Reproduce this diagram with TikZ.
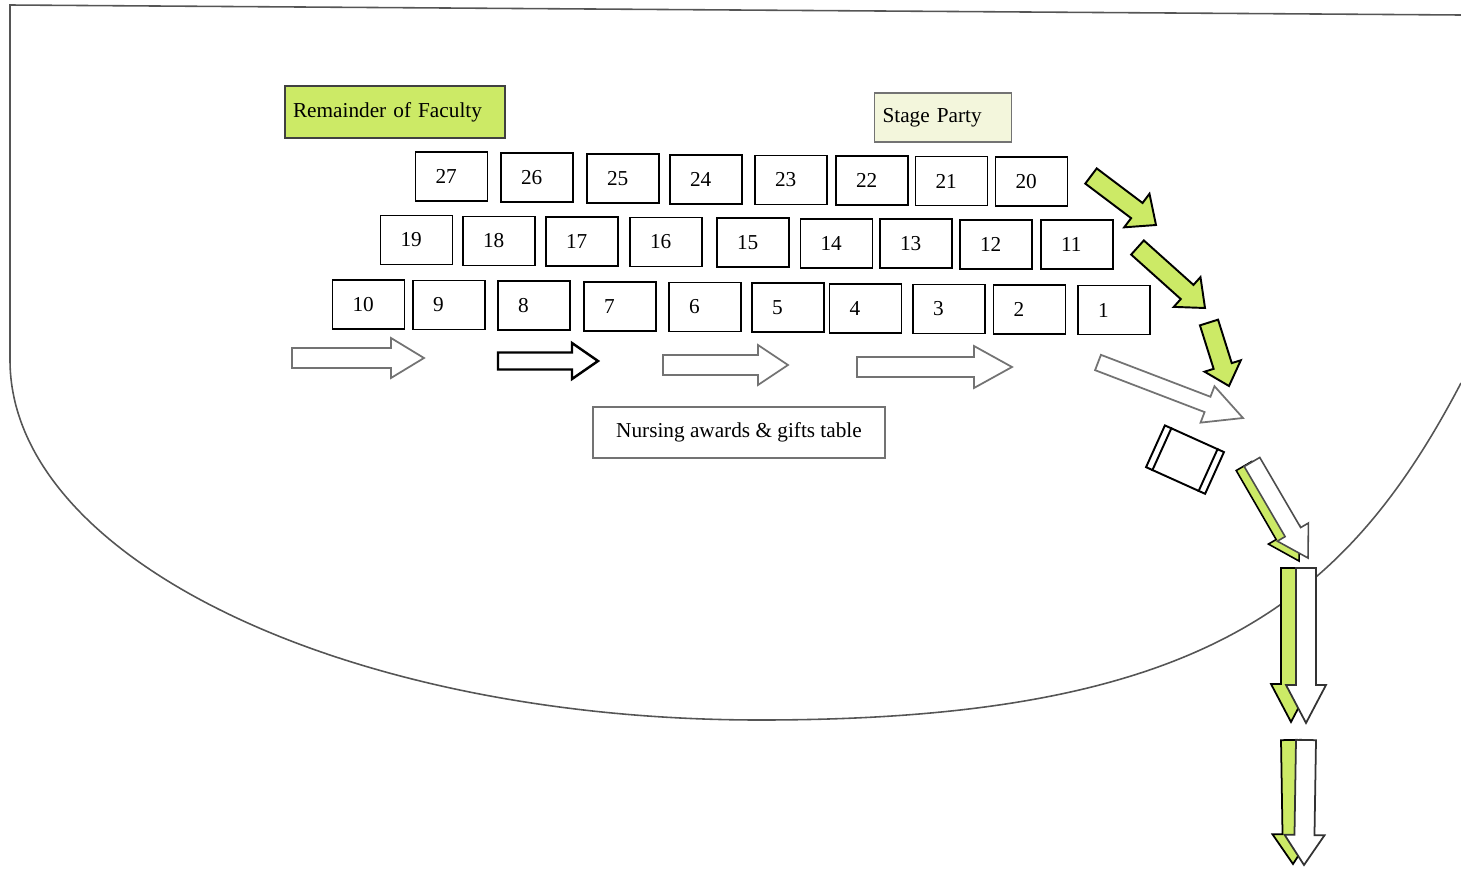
\documentclass[tikz,border=0pt]{standalone}
\usepackage{xcolor}
\usepackage{fontspec}
\setmainfont{Liberation Serif}
\usepackage{tikz}
\usetikzlibrary{calc}
\usetikzlibrary{positioning}
\definecolor{lime}{RGB}{204,234,102}
\definecolor{palelime}{RGB}{243,246,220}
\definecolor{rim}{RGB}{85,85,85}
\tikzstyle{seat}= [draw, line width=1.1pt, minimum width=1.44cm, minimum height=0.98cm, text width=0.64cm, inner xsep=0.4cm, align=left]
\tikzstyle{tag}= [draw=rim, line width=1.1pt, inner xsep=0.16cm, align=left]
\tikzstyle{flow}= [draw=black!55, fill=white, line width=1pt]
\tikzstyle{lead}= [draw=black, fill=lime, line width=1.1pt, line join=miter]
\newcommand{\blockarrow}[6][]{%
  \pgfmathsetmacro{\arw}{#4*0.02}%
  \pgfmathsetmacro{\arh}{#5*0.02}%
  \pgfmathsetmacro{\arl}{#6*0.02}%
  \coordinate (tl) at (#2);
  \coordinate (tp) at (#3);
  \coordinate (nk) at ($(tp)!\arl cm!(tl)$);
  \draw[#1] ($(tl)!\arw cm!90:(tp)$) -- ($(nk)!\arw cm!90:(tp)$) -- ($(nk)!\arh cm!90:(tp)$)
    -- (tp) -- ($(nk)!\arh cm!-90:(tp)$) -- ($(nk)!\arw cm!-90:(tp)$) -- ($(tl)!\arw cm!-90:(tp)$) -- cycle;
}

\begin{document}
\begin{tikzpicture}[
    x=0.02cm, y=-0.02cm,
    font=\fontsize{12.1}{14}\selectfont,
    pale/.style={draw=black!55, line width=1.1pt}
  ]
  \useasboundingbox (0,0) rectangle (1461,869);

  \draw[rim, line width=0.9pt] (1461,15) -- (10,5) -- (10,360)
    .. controls (10,559) and (346,720) .. (760,720)
    .. controls (1200,720) and (1345,604) .. (1461,383);

  \node[tag, fill=lime, draw=black!75, minimum width=4.4cm, minimum height=1.04cm, text width=4.08cm] (faculty) at (395,112) {Remainder of Faculty};
  \node[tag, fill=palelime, draw=black!55, minimum width=2.74cm, minimum height=0.97cm, text width=2.42cm] (party) at (943,117.5) {Stage Party};

  \node[seat] (s27) at (451.5,176.5) {27};
  \node[seat] (s26) at (537,177.5) {26};
  \node[seat] (s25) at (623,178.5) {25};
  \node[seat] (s24) at (706,179.5) {24};
  \node[seat] (s23) at (791,180) {23};
  \node[seat] (s22) at (872,180.5) {22};
  \node[seat] (s21) at (951.5,181) {21};
  \node[seat] (s20) at (1031.5,181.5) {20};

  \node[seat] (s19) at (416.5,240) {19};
  \node[seat] (s18) at (499,241) {18};
  \node[seat] (s17) at (582,241.5) {17};
  \node[seat] (s16) at (666,242) {16};
  \node[seat] (s15) at (753,242.5) {15};
  \node[seat] (s14) at (836.5,243.5) {14};
  \node[seat] (s13) at (916,243.5) {13};
  \node[seat] (s12) at (996,244.5) {12};
  \node[seat] (s11) at (1077,244.5) {11};

  \node[seat] (s10) at (368.5,304.5) {10};
  \node[seat] (s9) at (449,305) {9};
  \node[seat] (s8) at (534,305.5) {8};
  \node[seat] (s7) at (620,306.5) {7};
  \node[seat] (s6) at (705,307) {6};
  \node[seat] (s5) at (788,307.5) {5};
  \node[seat] (s4) at (865.5,308.5) {4};
  \node[seat] (s3) at (949,309) {3};
  \node[seat] (s2) at (1029.5,309.5) {2};
  \node[seat] (s1) at (1114,310) {1};

  \node[pale, minimum width=5.84cm, minimum height=1.02cm] (gifts) at (739,432.5) {Nursing awards \& gifts table};

  \blockarrow[flow]{292,358}{424,358}{10}{20}{33}
  \blockarrow[flow, draw=black, line width=1.4pt]{498,361}{598,361}{8.5}{18}{26}
  \blockarrow[flow]{663,365}{788,365}{10}{20}{30}
  \blockarrow[flow]{857,367}{1012,367}{10}{21}{38}

  \blockarrow[lead]{1091,176}{1156,225}{9.5}{21}{24}
  \blockarrow[lead]{1137.5,247.5}{1205,308}{9.5}{20}{24}
  \blockarrow[lead]{1209,322.5}{1229,386}{9.5}{19}{21}
  \blockarrow[flow]{1098,362.5}{1243,418}{8.2}{19.5}{38}

  \node[draw, line width=1.1pt, rotate=-24.3, minimum width=1.296cm, minimum height=0.916cm, inner sep=0pt] (gate) at (1185,459.6) {};
  \draw[line width=1.1pt] ($(gate.north west)!0.12!(gate.north east)$) -- ($(gate.south west)!0.12!(gate.south east)$);
  \draw[line width=1.1pt] ($(gate.north east)!0.12!(gate.north west)$) -- ($(gate.south east)!0.12!(gate.south west)$);

  \blockarrow[lead, line width=0.9pt]{1244,466}{1299,561}{9}{18}{30}
  \blockarrow[flow, draw=black!70, line width=0.9pt]{1252,462}{1308,558}{9}{18}{30}

  \blockarrow[lead, line width=1pt]{1291,568}{1291,722}{10}{20}{38}
  \blockarrow[flow, draw=black!80]{1306,568}{1306,723}{10}{20}{38}

  \blockarrow[lead, line width=1pt]{1291,740}{1293,864}{10}{20}{30}
  \blockarrow[flow, draw=black!80]{1306,740}{1304,865}{10}{20}{30}
\end{tikzpicture}
\end{document}
